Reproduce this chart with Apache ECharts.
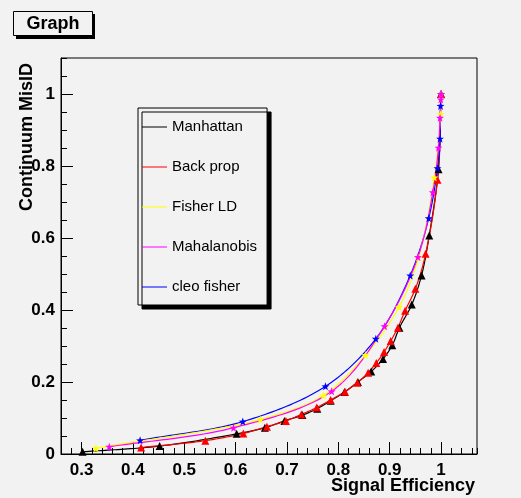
<!DOCTYPE html>
<html>
<head>
<meta charset="utf-8">
<script src="https://cdn.jsdelivr.net/npm/echarts@6/dist/echarts.min.js"></script>
<style>
html,body{margin:0;padding:0;background:#f2f2f2;}
#c{width:521px;height:498px;}
</style>
</head>
<body>
<div id="c"></div>
<script>
const seriesNames = ['Manhattan', 'Back prop', 'Fisher LD', 'Mahalanobis', 'cleo fisher'];

const manhattanX = [0.302, 0.452, 0.602, 0.657, 0.695, 0.730, 0.759, 0.785, 0.812, 0.838, 0.864, 0.887, 0.905, 0.919, 0.943, 0.962, 0.977, 0.995, 1.0];
const manhattanY = [0.006, 0.022, 0.056, 0.073, 0.092, 0.108, 0.126, 0.148, 0.172, 0.200, 0.229, 0.264, 0.302, 0.351, 0.415, 0.496, 0.607, 0.791, 1.0];

const backpropX = [0.416, 0.541, 0.615, 0.661, 0.698, 0.728, 0.758, 0.785, 0.813, 0.837, 0.858, 0.874, 0.889, 0.902, 0.916, 0.930, 0.950, 0.970, 0.993, 1.0];
const backpropY = [0.018, 0.037, 0.057, 0.076, 0.092, 0.110, 0.129, 0.150, 0.173, 0.198, 0.226, 0.253, 0.283, 0.314, 0.351, 0.398, 0.459, 0.556, 0.762, 1.0];

const fisherX = [0.328, 0.648, 0.771, 0.853, 0.918, 0.956, 0.987, 0.999, 1.0];
const fisherY = [0.016, 0.096, 0.163, 0.275, 0.408, 0.545, 0.768, 0.944, 1.0];

const mahalX = [0.354, 0.596, 0.787, 0.890, 0.955, 0.984, 0.995, 0.998, 0.9995, 1.0];
const mahalY = [0.020, 0.073, 0.174, 0.355, 0.547, 0.727, 0.851, 0.934, 0.985, 1.0];

const cleoX = [0.414, 0.614, 0.775, 0.873, 0.940, 0.976, 0.993, 0.998, 0.999, 1.0];
const cleoY = [0.038, 0.090, 0.188, 0.320, 0.496, 0.655, 0.794, 0.876, 0.967, 1.0];

const xMin = 0.26, xMax = 1.07, xMinorStep = 0.02;
const yMin = 0, yMax = 1.1, yMajorStep = 0.2, yMinorStep = 0.05;

const titleText = 'Graph';
const xTitle = 'Signal Efficiency';
const yTitle = 'Continuum MisID';

const FONT = 'Liberation Sans, Arial, Helvetica, sans-serif';
const STAR = 'path://M0,-10 L2.35,-3.24 L9.51,-3.09 L3.8,1.24 L5.88,8.09 L0,4 L-5.88,8.09 L-3.8,1.24 L-9.51,-3.09 L-2.35,-3.24 Z';

function pairs(xs, ys) { return xs.map((x, i) => [x, ys[i]]); }

// centripetal Catmull-Rom through pixel points (computed from the axis scale via api.coord)
function spline(pts, n) {
  const out = [];
  const L = pts.length;
  const d = (a, b) => Math.max(Math.pow(Math.hypot(b[0] - a[0], b[1] - a[1]), 0.5), 1e-4);
  for (let i = 0; i < L - 1; i++) {
    const p1 = pts[i], p2 = pts[i + 1];
    const p0 = i > 0 ? pts[i - 1] : [2 * p1[0] - p2[0], 2 * p1[1] - p2[1]];
    const p3 = i + 2 < L ? pts[i + 2] : [2 * p2[0] - p1[0], 2 * p2[1] - p1[1]];
    const t0 = 0, t1 = t0 + d(p0, p1), t2 = t1 + d(p1, p2), t3 = t2 + d(p2, p3);
    const last = (i === L - 2) ? n : n - 1;
    for (let j = 0; j <= last; j++) {
      const t = t1 + (t2 - t1) * j / n;
      const lerp = (a, b, ta, tb) => [
        ((tb - t) * a[0] + (t - ta) * b[0]) / (tb - ta),
        ((tb - t) * a[1] + (t - ta) * b[1]) / (tb - ta)
      ];
      const A1 = lerp(p0, p1, t0, t1), A2 = lerp(p1, p2, t1, t2), A3 = lerp(p2, p3, t2, t3);
      const B1 = lerp(A1, A2, t0, t2), B2 = lerp(A2, A3, t1, t3);
      out.push(lerp(B1, B2, t1, t2));
    }
  }
  return out;
}

function curveSeries(name, xs, ys, color) {
  const data = pairs(xs, ys);
  return {
    name: name + ' curve', type: 'custom', data: data,
    xAxisIndex: 0, yAxisIndex: 0,
    encode: { x: 0, y: 1 }, silent: true, clip: false,
    renderItem: function (params, api) {
      if (params.dataIndex !== 0) return null;
      const px = data.map(p => api.coord(p));
      return {
        type: 'polyline',
        shape: { points: spline(px, 24) },
        style: { stroke: color, lineWidth: 1.2, fill: null }
      };
    }
  };
}

function markerSeries(name, xs, ys, color, symbol, size) {
  return {
    name: name, type: 'line', data: pairs(xs, ys),
    xAxisIndex: 0, yAxisIndex: 0,
    showSymbol: true, showAllSymbol: true,
    symbol: symbol, symbolSize: size,
    lineStyle: { color: color, width: 0, opacity: 0 },
    itemStyle: { color: color },
    emphasis: { disabled: true }
  };
}

const chart = echarts.init(document.getElementById('c'), null, { renderer: 'canvas' });

const tickLabel = { color: '#000', fontFamily: FONT, fontWeight: 'bold', fontSize: 17 };

chart.setOption({
  animation: false,
  backgroundColor: '#f2f2f2',
  grid: { left: 61, right: 44, top: 58, bottom: 44, show: true, borderColor: '#000', borderWidth: 1, backgroundColor: 'transparent' },
  xAxis: [
    {
      type: 'value', min: xMin, max: xMax, splitNumber: 8, position: 'bottom',
      axisLine: { show: true, onZero: false, lineStyle: { color: '#000', width: 1 } },
      axisTick: { show: true, inside: true, length: 12, lineStyle: { color: '#000' } },
      axisLabel: Object.assign({ margin: 8, showMinLabel: false, showMaxLabel: false }, tickLabel),
      splitLine: { show: false }
    },
    {
      type: 'value', min: xMin, max: xMax, interval: xMinorStep, position: 'bottom',
      axisLine: { show: false, onZero: false },
      axisTick: { show: true, inside: true, length: 6, lineStyle: { color: '#000' } },
      axisLabel: { show: false },
      splitLine: { show: false }
    }
  ],
  yAxis: [
    {
      type: 'value', min: yMin, max: yMax, interval: yMajorStep, position: 'left',
      axisLine: { show: true, onZero: false, lineStyle: { color: '#000', width: 1 } },
      axisTick: { show: true, inside: true, length: 12, lineStyle: { color: '#000' } },
      axisLabel: Object.assign({ margin: 6, showMaxLabel: false }, tickLabel),
      splitLine: { show: false }
    },
    {
      type: 'value', min: yMin, max: yMax, interval: yMinorStep, position: 'left',
      axisLine: { show: false, onZero: false },
      axisTick: { show: true, inside: true, length: 6, lineStyle: { color: '#000' } },
      axisLabel: { show: false },
      splitLine: { show: false }
    }
  ],
  legend: {
    orient: 'vertical', left: 138, top: 108,
    data: seriesNames.map(n => ({ name: n, icon: 'rect' })),
    itemWidth: 25, itemHeight: 1, itemGap: 24, itemTextGap: 4,
    padding: [11, 10, 10, 4],
    backgroundColor: '#f2f2f2', borderColor: '#000', borderWidth: 1,
    shadowColor: '#000', shadowBlur: 0, shadowOffsetX: 4, shadowOffsetY: 4,
    selectedMode: false,
    textStyle: { color: '#000', fontFamily: FONT, fontSize: 15, lineHeight: 16 }
  },
  graphic: [
    { type: 'rect', shape: { x: 16, y: 14, width: 79, height: 25 }, style: { fill: '#000' }, silent: true },
    { type: 'rect', shape: { x: 13.5, y: 11.5, width: 79, height: 24 }, style: { fill: '#f2f2f2', stroke: '#000', lineWidth: 1 }, silent: true },
    { type: 'text', x: 53, y: 24, style: { text: titleText, fill: '#000', font: 'bold 18px ' + FONT, align: 'center', verticalAlign: 'middle' }, silent: true },
    { type: 'text', x: 475, y: 486, style: { text: xTitle, fill: '#000', font: 'bold 18px ' + FONT, align: 'right', verticalAlign: 'middle' }, silent: true },
    { type: 'text', x: 27, y: 63, rotation: Math.PI / 2, style: { text: yTitle, fill: '#000', font: 'bold 18px ' + FONT, align: 'right', verticalAlign: 'middle' }, silent: true }
  ],
  series: [
    curveSeries('Manhattan', manhattanX, manhattanY, '#000000'),
    curveSeries('Back prop', backpropX, backpropY, '#ff0000'),
    curveSeries('cleo fisher', cleoX, cleoY, '#0000ff'),
    curveSeries('Fisher LD', fisherX, fisherY, '#ffff00'),
    curveSeries('Mahalanobis', mahalX, mahalY, '#ff00ff'),
    markerSeries('Manhattan', manhattanX, manhattanY, '#000000', 'triangle', 8),
    markerSeries('Back prop', backpropX, backpropY, '#ff0000', 'triangle', 8),
    markerSeries('cleo fisher', cleoX, cleoY, '#0000ff', STAR, 8),
    markerSeries('Fisher LD', fisherX, fisherY, '#ffff00', STAR, 8),
    markerSeries('Mahalanobis', mahalX, mahalY, '#ff00ff', STAR, 8)
  ]
});
</script>
</body>
</html>
